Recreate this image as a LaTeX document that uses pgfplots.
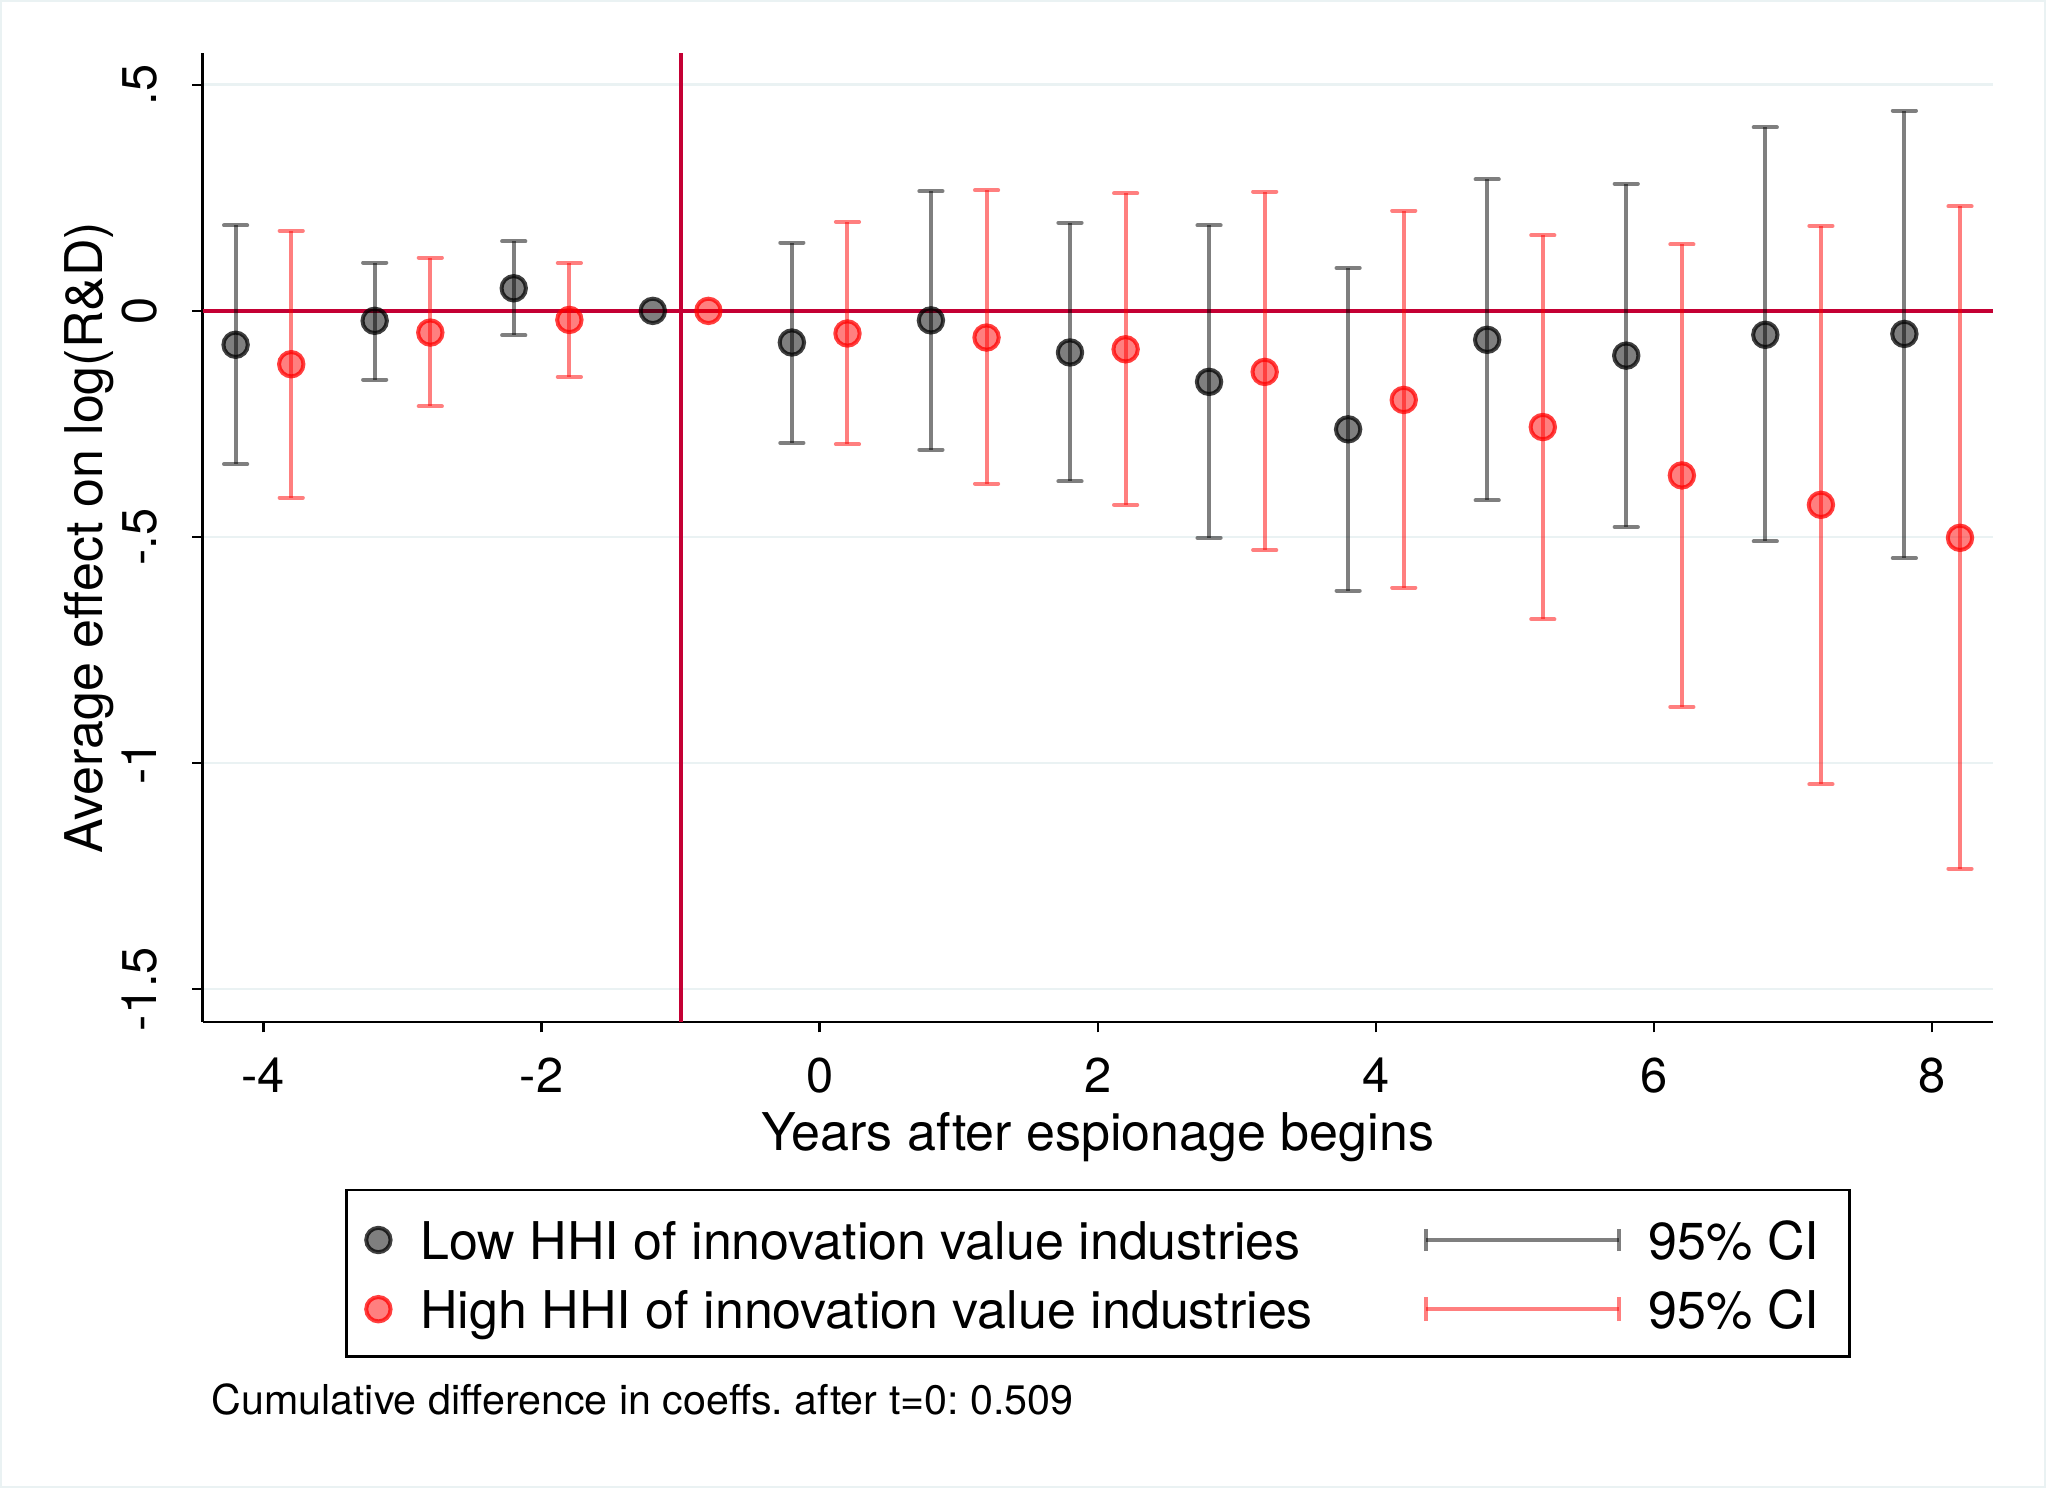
\documentclass[border=0pt]{standalone}
\usepackage{pgfplots}
\usepackage{pgfplotstable}
\pgfplotsset{compat=1.18}
\usepackage{fontspec}
\setmainfont{TeX Gyre Heros}
\frenchspacing
\definecolor{cranb}{RGB}{196,0,52}
\definecolor{gridc}{RGB}{234,242,243}

\pgfplotstableread{
x y
-4.2 -0.075
-3.2 -0.022
-2.2 0.050
-1.2 0
-0.2 -0.070
0.8 -0.021
1.8 -0.092
2.8 -0.157
3.8 -0.262
4.8 -0.064
5.8 -0.099
6.8 -0.053
7.8 -0.051
}\lowpts

\pgfplotstableread{
x y lo hi
-4.2 -0.075 -0.339 0.189
-3.2 -0.022 -0.152 0.107
-2.2 0.050 -0.054 0.154
-0.2 -0.070 -0.292 0.151
0.8 -0.021 -0.307 0.265
1.8 -0.092 -0.377 0.195
2.8 -0.157 -0.502 0.189
3.8 -0.262 -0.619 0.095
4.8 -0.064 -0.419 0.291
5.8 -0.099 -0.478 0.281
6.8 -0.053 -0.510 0.406
7.8 -0.051 -0.547 0.443
}\lowci

\pgfplotstableread{
x y
-3.8 -0.118
-2.8 -0.048
-1.8 -0.020
-0.8 0
0.2 -0.050
1.2 -0.059
2.2 -0.085
3.2 -0.135
4.2 -0.197
5.2 -0.257
6.2 -0.364
7.2 -0.429
8.2 -0.502
}\highpts

\pgfplotstableread{
x y lo hi
-3.8 -0.118 -0.413 0.177
-2.8 -0.048 -0.211 0.118
-1.8 -0.020 -0.146 0.106
0.2 -0.050 -0.295 0.197
1.2 -0.059 -0.382 0.267
2.2 -0.085 -0.429 0.260
3.2 -0.135 -0.529 0.264
4.2 -0.197 -0.612 0.222
5.2 -0.257 -0.682 0.167
6.2 -0.364 -0.876 0.147
7.2 -0.429 -1.047 0.188
8.2 -0.502 -1.234 0.231
}\highci

\begin{document}
\begin{tikzpicture}
\path[use as bounding box] (-50.7pt,-116.5pt) rectangle (460.8pt,255.5pt);
\draw[gridc, line width=0.6pt] (-50.4pt,-116.2pt) rectangle (460.5pt,255.2pt);
\begin{axis}[
  scale only axis,
  width=447.5pt, height=242.2pt,
  xmin=-4.436, xmax=8.436, ymin=-1.573, ymax=0.570,
  axis x line*=bottom, axis y line*=left,
  axis line style={-, line width=0.65pt, black},
  xtick={-4,-2,0,2,4,6,8},
  xticklabels={-4,-2,0,2,4,6,8},
  ytick={-1.5,-1,-0.5,0,0.5},
  yticklabels={-1.5,-1,-.5,0,.5},
  tick align=outside,
  major tick length=2.6pt,
  tick style={line width=0.65pt, black},
  tick label style={font=\fontsize{12.2}{14}\selectfont},
  xticklabel style={anchor=base, yshift=-15pt},
  yticklabel style={xshift=-9pt, rotate=90, anchor=base},
  ymajorgrids,
  major grid style={draw=gridc, line width=0.7pt},
  xlabel={Years after espionage begins},
  ylabel={Average effect on log(R\&D)},
  label style={font=\fontsize{13}{15}\selectfont},
  xlabel style={at={(axis description cs:0.5,0)}, anchor=base, yshift=-32pt},
  ylabel style={at={(axis description cs:-0.0563,0.5)}, anchor=base},
  legend columns=2,
  legend cell align=left,
  legend style={at={(0,0)}, anchor=north west, xshift=35.9pt, yshift=-42pt,
    draw=black, line width=0.7pt, inner sep=0pt, outer sep=0pt,
    row sep=0pt, column sep=0pt,
    nodes={inner sep=0pt, text depth=0pt},
    font=\fontsize{13}{15}\selectfont},
]
\addplot[forget plot, cranb, line width=1pt] coordinates {(-4.436,0) (8.436,0)};
\addplot[forget plot, cranb, line width=1pt] coordinates {(-1,-1.573) (-1,0.570)};

\addplot[forget plot, draw=none, mark=none,
  error bars/.cd, y dir=both, y explicit,
  error bar style={line width=1pt, draw=black, draw opacity=0.5},
  error mark options={rotate=90, line width=1pt, line cap=round, mark size=2.9pt, draw=black, draw opacity=0.5}]
  table[x=x, y=y, y error plus expr=\thisrow{hi}-\thisrow{y}, y error minus expr=\thisrow{y}-\thisrow{lo}] {\lowci};
\addplot[forget plot, draw=none, mark=none,
  error bars/.cd, y dir=both, y explicit,
  error bar style={line width=1pt, draw=red, draw opacity=0.5},
  error mark options={rotate=90, line width=1pt, line cap=round, mark size=2.9pt, draw=red, draw opacity=0.5}]
  table[x=x, y=y, y error plus expr=\thisrow{hi}-\thisrow{y}, y error minus expr=\thisrow{y}-\thisrow{lo}] {\highci};

\addplot[forget plot, only marks, mark=*, mark size=3.05pt,
  mark options={line width=1pt, draw=black, draw opacity=0.75, fill=black, fill opacity=0.5}]
  table[x=x, y=y] {\lowpts};
\addplot[forget plot, only marks, mark=*, mark size=3.05pt,
  mark options={line width=1pt, draw=red, draw opacity=0.75, fill=red, fill opacity=0.5}]
  table[x=x, y=y] {\highpts};

\addlegendimage{legend image code/.code={
  \path[draw=none, fill=none] (0pt,-8.5pt) rectangle (18.5pt,12.5pt);
  \draw[line width=1pt, draw=black, draw opacity=0.75, fill=black, fill opacity=0.5] (8pt,0pt) circle (3.05pt);}}
\addlegendentry{\makebox[245.1pt][l]{Low HHI of innovation value industries}}
\addlegendimage{legend image code/.code={
  \path[draw=none, fill=none] (0pt,-8.5pt) rectangle (62pt,12.5pt);
  \draw[line width=1pt, draw=black, draw opacity=0.5] (6.3pt,0pt) -- (54.5pt,0pt);
  \draw[line width=1pt, draw=black, draw opacity=0.5] (6.3pt,-2.8pt) -- (6.3pt,2.8pt);
  \draw[line width=1pt, draw=black, draw opacity=0.5] (54.5pt,-2.8pt) -- (54.5pt,2.8pt);}}
\addlegendentry{\makebox[50.2pt][l]{95\% CI}}
\addlegendimage{legend image code/.code={
  \path[draw=none, fill=none] (0pt,-11.8pt) rectangle (18.5pt,8.8pt);
  \draw[line width=1pt, draw=red, draw opacity=0.75, fill=red, fill opacity=0.5] (8pt,0pt) circle (3.05pt);}}
\addlegendentry{\makebox[245.1pt][l]{High HHI of innovation value industries}}
\addlegendimage{legend image code/.code={
  \path[draw=none, fill=none] (0pt,-11.8pt) rectangle (62pt,8.8pt);
  \draw[line width=1pt, draw=red, draw opacity=0.5] (6.3pt,0pt) -- (54.5pt,0pt);
  \draw[line width=1pt, draw=red, draw opacity=0.5] (6.3pt,-3pt) -- (6.3pt,3pt);
  \draw[line width=1pt, draw=red, draw opacity=0.5] (54.5pt,-3pt) -- (54.5pt,3pt);}}
\addlegendentry{\makebox[50.2pt][l]{95\% CI}}
\end{axis}
\node[anchor=base west, inner sep=0pt, font=\fontsize{10.3}{12}\selectfont] at (2pt,-98.2pt) {Cumulative difference in coeffs. after t=0: 0.509};
\end{tikzpicture}
\end{document}
